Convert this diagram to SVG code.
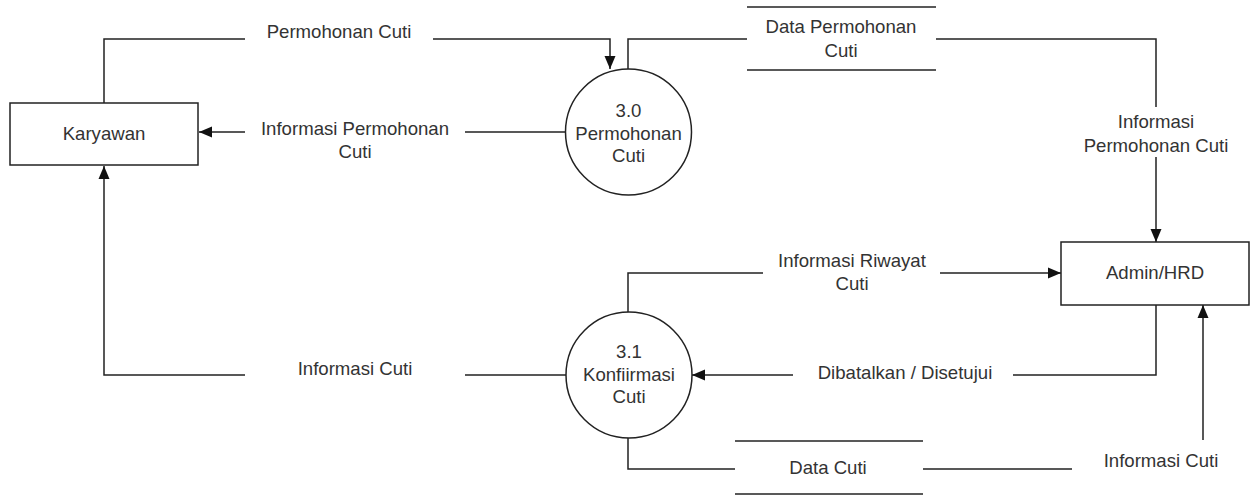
<svg xmlns="http://www.w3.org/2000/svg" width="1250" height="495" viewBox="0 0 1250 495">
<style>
.box{fill:#fff;stroke:#222;stroke-width:1.5}
.proc{fill:#fff;stroke:#222;stroke-width:1.5}
.store{stroke:#222;stroke-width:1.5}
.edge{fill:none;stroke:#222;stroke-width:1.5}
text{font-family:"Liberation Sans",Arial,sans-serif;font-size:18.6px;fill:#333;text-anchor:middle}
</style>
<defs>
<marker id="arr" markerUnits="userSpaceOnUse" markerWidth="14" markerHeight="14" viewBox="0 0 14 14" refX="13" refY="7" orient="auto">
<path d="M0,1.5 L13,7 L0,12.5 z" fill="#111"/>
</marker>
</defs>
<rect width="1250" height="495" fill="#fff"/>
<g id="connectors">
<path class="edge" d="M104,103 V39 H245 M433,39 H610 V69" marker-end="url(#arr)"/>
<path class="edge" d="M565,132 H465 M245,132 H199" marker-end="url(#arr)"/>
<path class="edge" d="M628,69 V39 H747"/>
<path class="edge" d="M936,39 H1156 V107 M1156,157 V242" marker-end="url(#arr)"/>
<path class="edge" d="M628,312 V273 H763 M940,273 H1061" marker-end="url(#arr)"/>
<path class="edge" d="M1156,305 V375 H1013 M793,375 H692" marker-end="url(#arr)"/>
<path class="edge" d="M628,438 V469 H735"/>
<path class="edge" d="M923,469 H1072 M1203,440 V305" marker-end="url(#arr)"/>
<path class="edge" d="M566,375 H465 M245,375 H104 V166" marker-end="url(#arr)"/>
<text x="339" y="38">Permohonan Cuti</text>
<text x="355" y="135">Informasi Permohonan</text>
<text x="355" y="158">Cuti</text>
<text x="1156" y="128">Informasi</text>
<text x="1156" y="152">Permohonan Cuti</text>
<text x="852" y="267">Informasi Riwayat</text>
<text x="852" y="290">Cuti</text>
<text x="905" y="379">Dibatalkan / Disetujui</text>
<text x="355" y="375">Informasi Cuti</text>
<text x="1161" y="467">Informasi Cuti</text>
</g>
<g id="karyawan">
<rect class="box" x="10" y="103" width="188" height="62"/>
<text x="104" y="140">Karyawan</text>
</g>
<g id="admin">
<rect class="box" x="1061" y="242" width="188" height="63"/>
<text x="1155" y="279">Admin/HRD</text>
</g>
<g id="p30">
<circle class="proc" cx="628.5" cy="132" r="63"/>
<text x="628.5" y="117">3.0</text>
<text x="628.5" y="139.5">Permohonan</text>
<text x="628.5" y="162">Cuti</text>
</g>
<g id="p31">
<circle class="proc" cx="629" cy="375" r="63"/>
<text x="629" y="358">3.1</text>
<text x="629" y="381">Konfiirmasi</text>
<text x="629" y="403">Cuti</text>
</g>
<g id="ds-permohonan">
<line class="store" x1="747" y1="7" x2="936" y2="7"/>
<line class="store" x1="747" y1="70" x2="936" y2="70"/>
<text x="841" y="33">Data Permohonan</text>
<text x="841" y="57">Cuti</text>
</g>
<g id="ds-cuti">
<line class="store" x1="735" y1="441" x2="923" y2="441"/>
<line class="store" x1="735" y1="494" x2="923" y2="494"/>
<text x="828" y="474">Data Cuti</text>
</g>
</svg>
